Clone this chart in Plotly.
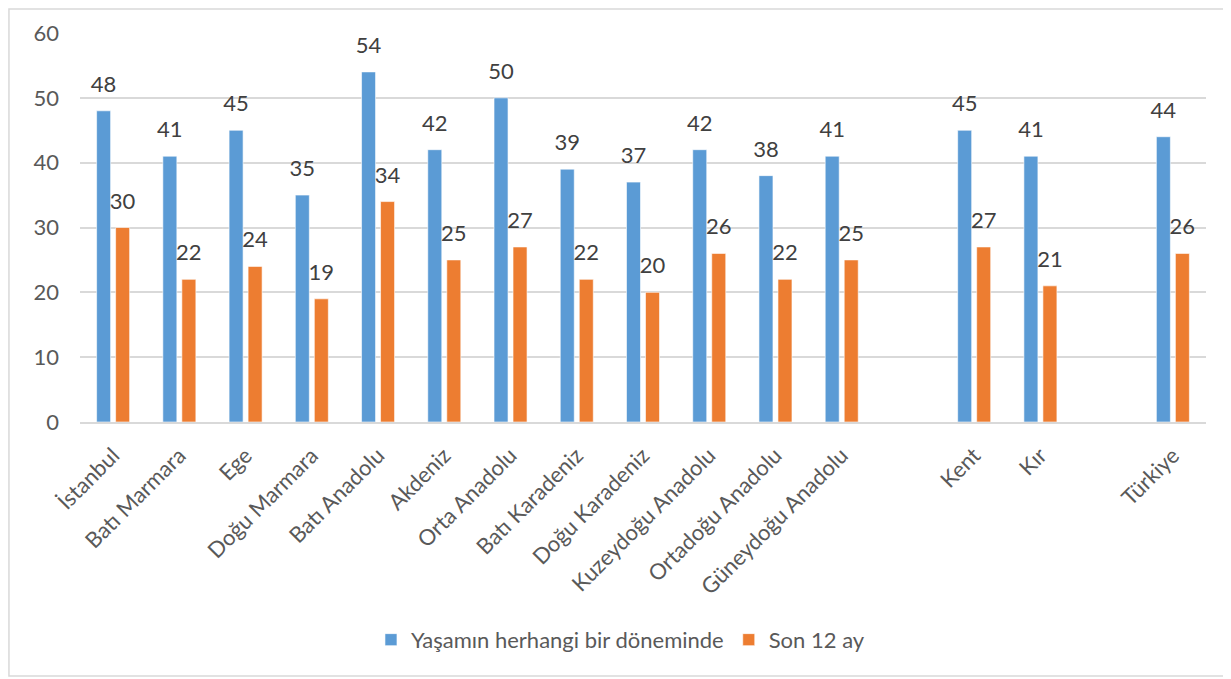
import plotly.graph_objects as go

# Regions, then a blank slot, settlement type, another blank slot, country total
categories = [
    "İstanbul", "Batı Marmara", "Ege", "Doğu Marmara", "Batı Anadolu",
    "Akdeniz", "Orta Anadolu", "Batı Karadeniz", "Doğu Karadeniz",
    "Kuzeydoğu Anadolu", "Ortadoğu Anadolu", "Güneydoğu Anadolu",
    " ", "Kent", "Kır", "  ", "Türkiye",
]
lifetime = [48, 41, 45, 35, 54, 42, 50, 39, 37, 42, 38, 41, None, 45, 41, None, 44]
last_12 = [30, 22, 24, 19, 34, 25, 27, 22, 20, 26, 22, 25, None, 27, 21, None, 26]

SERIES = [
    ("Yaşamın herhangi bir döneminde", lifetime, "#5b9bd5", "a"),
    ("Son 12 ay", last_12, "#ed7d31", "b"),
]

FONT = "Lato, 'Open Sans', sans-serif"
GAP = 0.426

fig = go.Figure()
for name, values, color, grp in SERIES:
    fig.add_trace(
        go.Bar(
            x=categories,
            y=values,
            name=name,
            marker=dict(color=color, line=dict(color="#ffffff", width=0.6)),
            offsetgroup=grp,
        )
    )
# data labels, grouped the same way as the bars so they sit above them
for name, values, color, grp in SERIES:
    fig.add_trace(
        go.Scatter(
            x=categories,
            y=values,
            mode="markers+text",
            text=[str(v) if v is not None else "" for v in values],
            textposition="top center",
            textfont=dict(size=22, color="#404040", family=FONT),
            marker=dict(size=20, opacity=0),
            offsetgroup=grp,
            showlegend=False,
            hoverinfo="skip",
            cliponaxis=False,
        )
    )

# light frame round the whole chart
fig.add_shape(
    type="rect", xref="paper", yref="paper",
    x0=-0.0631, x1=1.0204, y0=-0.653, y1=1.0617,
    line=dict(color="#d9d9d9", width=1.5),
)

# the page has an 8px body margin, so the figure is a little smaller
fig.update_layout(
    width=1223,
    height=671,
    margin=dict(l=72, r=25, t=25, b=257),
    plot_bgcolor="white",
    paper_bgcolor="white",
    barmode="group",
    scattermode="group",
    bargap=GAP,
    bargroupgap=0.263,
    scattergap=GAP,
    font=dict(family=FONT, color="#595959"),
    legend=dict(
        orientation="h",
        x=0.48, xanchor="center",
        y=-0.56, yanchor="middle",
        font=dict(size=22, color="#595959"),
        traceorder="normal",
    ),
    showlegend=True,
)
fig.update_xaxes(
    type="category",
    tickangle=-45,
    tickfont=dict(size=22, color="#595959"),
    showgrid=False,
    showline=True,
    linecolor="#d9d9d9",
    linewidth=2,
    ticks="",
    ticklabelstandoff=10,
)
fig.update_yaxes(
    range=[0, 60],
    dtick=10,
    tickfont=dict(size=22, color="#595959"),
    gridcolor="#d9d9d9",
    gridwidth=1.5,
    zeroline=False,
    ticks="",
    ticklabelstandoff=20,
)

fig.write_html("out.html")
